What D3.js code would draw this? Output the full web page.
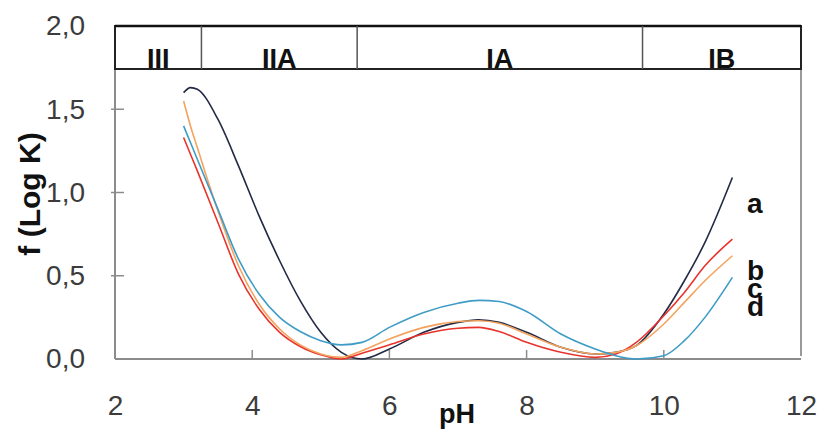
<!DOCTYPE html>
<html>
<head>
<meta charset="UTF-8">
<title>f (Log K) vs pH</title>
<script src="https://cdn.jsdelivr.net/npm/d3@7"></script>
<style>
  html, body { margin: 0; padding: 0; background: #fff; }
  svg { display: block; font-family: "Liberation Sans", Arial, sans-serif; }
</style>
</head>
<body>
<div id="chart"></div>
<script>
const w = 822;
const h = 431;

// pH grid shared by all curves
const pH = [3.0, 3.1, 3.2, 3.5, 3.8, 4.1, 4.4, 4.7, 5.0, 5.3, 5.6, 6.0, 6.5, 7.0, 7.3, 7.6, 8.0, 8.5, 9.0, 9.3, 9.6, 10.0, 10.3, 10.6, 11.0];

const seriesA = [1.60, 1.63, 1.62, 1.44, 1.16, 0.86, 0.59, 0.35, 0.16, 0.04, 0.00, 0.06, 0.16, 0.22, 0.235, 0.22, 0.16, 0.07, 0.03, 0.04, 0.08, 0.27, 0.47, 0.70, 1.09];
const seriesB = [1.33, 1.23, 1.13, 0.82, 0.51, 0.30, 0.16, 0.075, 0.025, 0.00, 0.035, 0.085, 0.15, 0.185, 0.19, 0.165, 0.10, 0.04, 0.01, 0.03, 0.10, 0.26, 0.40, 0.56, 0.72];
const seriesC = [1.55, 1.40, 1.27, 0.89, 0.56, 0.33, 0.18, 0.085, 0.03, 0.01, 0.05, 0.12, 0.19, 0.225, 0.23, 0.215, 0.15, 0.07, 0.03, 0.04, 0.08, 0.21, 0.34, 0.47, 0.62];
const seriesD = [1.40, 1.30, 1.20, 0.90, 0.60, 0.39, 0.25, 0.165, 0.11, 0.085, 0.10, 0.19, 0.28, 0.335, 0.352, 0.345, 0.285, 0.15, 0.06, 0.02, 0.00, 0.02, 0.11, 0.25, 0.49];

const seriesNames = ["a", "b", "c", "d"];
const seriesColors = ["#222a45", "#e8342c", "#f4a35e", "#3f9cc6"];

// pH regions shown in the top band
const regionLabels = ["III", "IIA", "IA", "IB"];
const regionBreaks = [2, 3.26, 5.53, 9.69, 12];

const xTicks = [2, 4, 6, 8, 10, 12];
const yTicks = [0, 0.5, 1.0, 1.5, 2.0];

const plotLeft = 115, plotRight = 801, plotTop = 26, plotBottom = 359;
const bandBottom = 69;

const x = d3.scaleLinear().domain([2, 12]).range([plotLeft, plotRight]);
const y = d3.scaleLinear().domain([0, 2]).range([plotBottom, plotTop]);

const svg = d3.select("#chart").append("svg")
  .attr("width", w)
  .attr("height", h);

const comma = d => d3.format(".1f")(d).replace(".", ",");

// frame of plot area (gray)
svg.append("line").attr("x1", plotLeft).attr("x2", plotLeft).attr("y1", bandBottom).attr("y2", plotBottom)
  .attr("stroke", "#8c8c8c").attr("stroke-width", 2);
svg.append("line").attr("x1", plotRight).attr("x2", plotRight).attr("y1", bandBottom).attr("y2", plotBottom - 3)
  .attr("stroke", "#9a9a9a").attr("stroke-width", 2);
svg.append("line").attr("x1", plotLeft).attr("x2", plotRight).attr("y1", plotBottom).attr("y2", plotBottom)
  .attr("stroke", "#8c8c8c").attr("stroke-width", 2);

// y axis ticks + labels
const yAxis = d3.axisLeft(y).tickValues(yTicks).tickFormat(comma).tickSize(0).tickPadding(30);
const gy = svg.append("g").attr("transform", `translate(${plotLeft},0)`).call(yAxis);
gy.select(".domain").remove();
gy.selectAll("text").attr("font-size", 28).attr("fill", "#3c3c3c").attr("font-family", "Liberation Sans, Arial, sans-serif");
svg.selectAll(".ytick").data(yTicks.filter(d => d > 0 && d < 1.7)).enter().append("line")
  .attr("x1", plotLeft - 4).attr("x2", plotLeft + 9)
  .attr("y1", d => y(d)).attr("y2", d => y(d))
  .attr("stroke", "#8c8c8c").attr("stroke-width", 1.5);

// x axis ticks + labels
const xAxis = d3.axisBottom(x).tickValues(xTicks).tickFormat(d3.format("d")).tickSize(0).tickPadding(36);
const gx = svg.append("g").attr("transform", `translate(0,${plotBottom})`).call(xAxis);
gx.select(".domain").remove();
gx.selectAll("text").attr("font-size", 28).attr("fill", "#3c3c3c").attr("font-family", "Liberation Sans, Arial, sans-serif");
svg.selectAll(".xtick").data(xTicks.filter(d => d > 2 && d < 12)).enter().append("line")
  .attr("x1", d => x(d)).attr("x2", d => x(d))
  .attr("y1", plotBottom).attr("y2", plotBottom - 9)
  .attr("stroke", "#8c8c8c").attr("stroke-width", 1.5);

// curves
const line = d3.line()
  .x((d, i) => x(pH[i]))
  .y(d => y(d))
  .curve(d3.curveMonotoneX);

[seriesA, seriesB, seriesC, seriesD].forEach((s, i) => {
  svg.append("path")
    .datum(s)
    .attr("d", line)
    .attr("fill", "none")
    .attr("stroke", seriesColors[i])
    .attr("stroke-width", 1.6);
});

// series labels (stacked tightly as in the original)
const labelY = [213, 280, 298, 316];
seriesNames.forEach((n, i) => {
  svg.append("text")
    .text(n)
    .attr("x", 747)
    .attr("y", labelY[i])
    .attr("font-size", 28)
    .attr("font-weight", "bold")
    .attr("fill", "#111");
});

// region band
svg.append("rect")
  .attr("x", plotLeft).attr("y", plotTop)
  .attr("width", plotRight - plotLeft).attr("height", bandBottom - plotTop)
  .attr("fill", "#fff")
  .attr("stroke", "#222").attr("stroke-width", 2);
svg.append("line").attr("x1", plotLeft).attr("x2", plotRight).attr("y1", plotTop).attr("y2", plotTop)
  .attr("stroke", "#111").attr("stroke-width", 2.5);

svg.selectAll(".sep").data(regionBreaks.slice(1, -1)).enter().append("line")
  .attr("x1", d => x(d)).attr("x2", d => x(d))
  .attr("y1", plotTop).attr("y2", bandBottom)
  .attr("stroke", "#555").attr("stroke-width", 1.5);

svg.selectAll(".region").data(regionLabels).enter().append("text")
  .text(d => d)
  .attr("x", (d, i) => (x(regionBreaks[i]) + x(regionBreaks[i + 1])) / 2)
  .attr("y", bandBottom - 1)
  .attr("text-anchor", "middle")
  .attr("font-size", 27)
  .attr("font-weight", "bold")
  .attr("fill", "#111");

// axis titles
svg.append("text")
  .text("pH")
  .attr("x", 457)
  .attr("y", 423)
  .attr("text-anchor", "middle")
  .attr("font-size", 27)
  .attr("font-weight", "bold")
  .attr("fill", "#111");

svg.append("text")
  .text("f (Log K)")
  .attr("transform", "translate(40,194) rotate(-90)")
  .attr("text-anchor", "middle")
  .attr("font-size", 30)
  .attr("font-weight", "bold")
  .attr("fill", "#111");
</script>
</body>
</html>
